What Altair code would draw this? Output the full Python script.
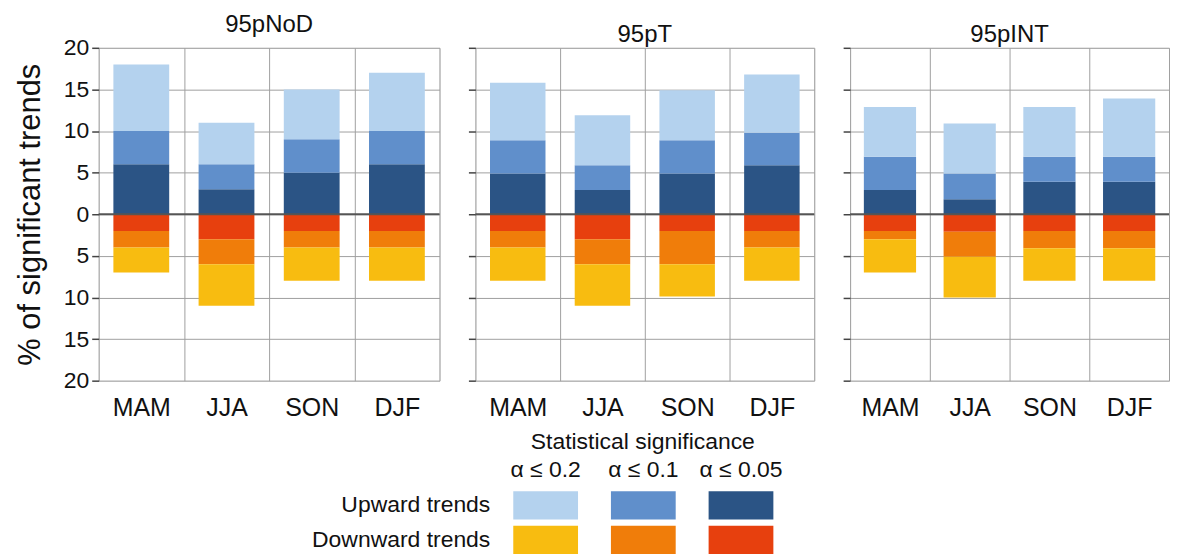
import altair as alt
import pandas as pd

# ---------------- data ----------------
panels = ["95pNoD", "95pT", "95pINT"]
seasons = ["MAM", "JJA", "SON", "DJF"]
levels = ["α ≤ 0.2", "α ≤ 0.1", "α ≤ 0.05"]
directions = ["Upward trends", "Downward trends"]

# cumulative % of stations with significant trends, per season (MAM, JJA, SON, DJF)
up_a005 = {"95pNoD": [6, 3, 5, 6], "95pT": [4.9, 2.9, 4.9, 5.9], "95pINT": [2.9, 1.8, 3.9, 3.9]}
up_a01 = {"95pNoD": [10, 6, 9, 10], "95pT": [8.9, 5.9, 8.9, 9.8], "95pINT": [6.9, 4.9, 6.9, 6.9]}
up_a02 = {"95pNoD": [18, 11, 15, 17], "95pT": [15.8, 11.9, 14.9, 16.8], "95pINT": [12.9, 10.9, 12.9, 13.9]}
down_a005 = {"95pNoD": [2, 3, 2, 2], "95pT": [2, 3, 2, 2], "95pINT": [2, 2.1, 2, 2]}
down_a01 = {"95pNoD": [4, 6, 4, 4], "95pT": [4, 6, 6, 4], "95pINT": [3, 5.1, 4.1, 4.1]}
down_a02 = {"95pNoD": [7, 11, 8, 8], "95pT": [8, 11, 9.9, 8], "95pINT": [7, 10, 8, 8]}

zero_line = [0]
y_ticks = [-20, -15, -10, -5, 0, 5, 10, 15, 20]

colors_up = ["#b4d2ee", "#608fcb", "#2b5485"]      # α ≤ 0.2, 0.1, 0.05
colors_down = ["#f8bc10", "#f07d0a", "#e7400e"]

# ---------------- tables ----------------
color_domain = [f"{d}|{l}" for d in directions for l in levels]
color_range = colors_up + colors_down

rows = []
for p in panels:
    for i, s in enumerate(seasons):
        u = [0, up_a005[p][i], up_a01[p][i], up_a02[p][i]]
        dn = [0, -down_a005[p][i], -down_a01[p][i], -down_a02[p][i]]
        for k, lev in enumerate(["α ≤ 0.05", "α ≤ 0.1", "α ≤ 0.2"]):
            rows.append(dict(panel=p, season=s, y0=u[k], y1=u[k + 1], key=f"Upward trends|{lev}"))
            rows.append(dict(panel=p, season=s, y0=dn[k], y1=dn[k + 1], key=f"Downward trends|{lev}"))
bars_df = pd.DataFrame(rows)

FONT = "Liberation Sans"
TXT = "#111111"
GRID = "#a0a0a0"

color_enc = alt.Color("key:N", scale=alt.Scale(domain=color_domain, range=color_range), legend=None)


def panel(name, width, first):
    d = bars_df[bars_df.panel == name]
    ykw = dict(values=y_ticks, labelExpr="abs(datum.value)", grid=True, gridColor=GRID,
               gridWidth=1, domain=False, ticks=True, tickSize=7, tickColor="#444444",
               tickWidth=1.5, labels=first)
    if first:
        ykw.update(title="% of significant trends", labelFont=FONT, labelFontSize=23,
                   labelColor=TXT, labelPadding=3, titleFont=FONT, titleFontSize=31,
                   titleFontWeight="normal", titleColor=TXT, titlePadding=17)
    else:
        ykw.update(title=None)
    xaxis = alt.Axis(title=None, labelAngle=0, tickBand="extent", grid=True, gridColor=GRID,
                     gridWidth=1, ticks=False, domain=False, labelFont=FONT,
                     labelFontSize=25, labelPadding=15, labelColor=TXT)
    bars = alt.Chart(d).mark_bar(width=alt.RelativeBandSize(0.655)).encode(
        x=alt.X("season:N", sort=seasons,
                scale=alt.Scale(domain=seasons, paddingInner=0, paddingOuter=0),
                axis=xaxis),
        y=alt.Y("y0:Q", scale=alt.Scale(domain=[-20, 20], nice=False, zero=False),
                axis=alt.Axis(**ykw)),
        y2="y1:Q",
        color=color_enc,
    )
    zero = alt.Chart(pd.DataFrame({"zero": zero_line})).mark_rule(
        color="#555555", strokeWidth=2).encode(y="zero:Q")
    return alt.layer(bars, zero).properties(
        width=width, height=334,
        title=alt.TitleParams(name, font=FONT, fontSize=24, fontWeight="normal",
                              color=TXT, offset=0, anchor="middle"),
    )


top = alt.hconcat(panel("95pNoD", 342, True), panel("95pT", 340, False),
                  panel("95pINT", 320, False), spacing=25)

# ---------------- legend ----------------
leg_df = pd.DataFrame([dict(col=l, row=d, key=f"{d}|{l}") for d in directions for l in levels])
lab_df = pd.DataFrame([dict(col=" ", row=d, text=d) for d in directions])

xs = alt.Scale(domain=[" "] + levels, range=[318, 677], paddingInner=0.337, paddingOuter=0)
ys = alt.Scale(domain=directions, paddingInner=0.18, paddingOuter=0)
leg_xaxis = alt.Axis(orient="top", title="Statistical significance", titleX=545.5,
                     titleFont=FONT, titleFontSize=23, titleFontWeight="normal",
                     titleColor=TXT, titlePadding=5, labelFont=FONT, labelFontSize=23,
                     labelColor=TXT, labelPadding=10, labelAngle=0, ticks=False,
                     domain=False, grid=False)

rects = alt.Chart(leg_df).mark_rect().encode(
    x=alt.X("col:N", scale=xs, axis=leg_xaxis),
    y=alt.Y("row:N", scale=ys, axis=None),
    color=color_enc,
)
texts = alt.Chart(lab_df).mark_text(align="right", baseline="middle", dx=10, font=FONT,
                                    fontSize=23, color=TXT).encode(
    x=alt.X("col:N", scale=xs, axis=leg_xaxis, bandPosition=1),
    y=alt.Y("row:N", scale=ys, axis=None),
    text="text:N",
)
legend = alt.layer(rects, texts).properties(
    width=700, height=63, view=alt.ViewBackground(stroke="transparent"))

chart = alt.vconcat(top, legend, spacing=8).properties(
    padding={"left": 5, "top": 3, "right": 0, "bottom": 0}
).configure_view(stroke="#555555", strokeWidth=2).configure(font=FONT)

chart.save("out.html", embed_options={"renderer": "svg", "actions": False})
